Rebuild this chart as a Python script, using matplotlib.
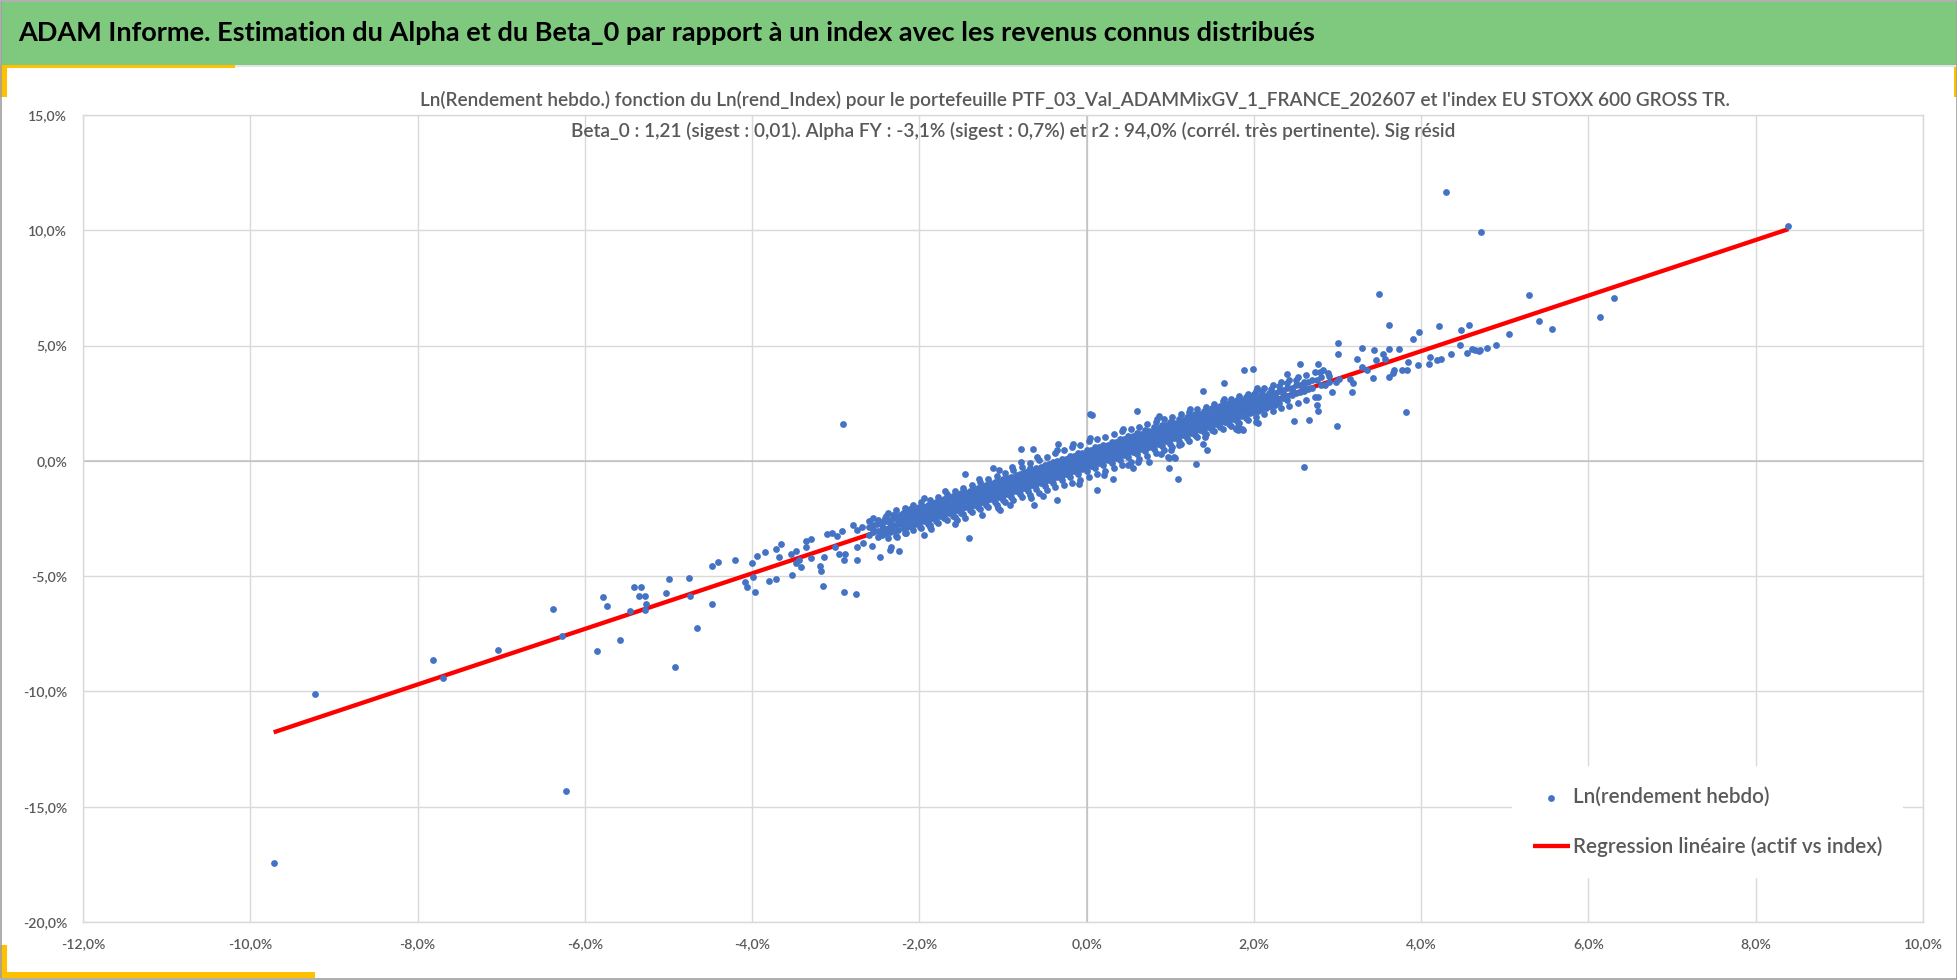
"""Ln(weekly return) of the portfolio vs Ln(weekly return) of the index,
with the fitted linear regression (ADAM style report chart)."""

import matplotlib
matplotlib.use("Agg")
import matplotlib.pyplot as plt
import numpy as np
from matplotlib.patches import Rectangle
from matplotlib.ticker import FuncFormatter

# ---------------------------------------------------------------- data (%)
# isolated points: (index, portfolio)
tail_low = [
    (-9.72, -17.42), (-9.23, -10.11), (-7.81, -8.63), (-7.70, -9.43),
    (-7.04, -8.20), (-6.38, -6.44), (-6.27, -7.59), (-6.23, -14.30),
    (-5.86, -8.24), (-5.78, -5.90), (-5.73, -6.28), (-5.58, -7.75),
    (-5.46, -6.50), (-5.41, -5.46), (-5.33, -5.46), (-5.35, -5.84),
    (-5.28, -5.84), (-5.27, -6.22), (-5.28, -6.47), (-5.03, -5.74),
    (-4.99, -5.13), (-4.92, -8.95), (-4.76, -5.08), (-4.74, -5.84),
    (-4.66, -7.26), (-4.48, -4.58), (-4.41, -4.37), (-4.48, -6.22),
    (-4.21, -4.31), (-4.09, -5.24), (-4.06, -5.47),
    (-3.96, -5.69), (-3.99, -5.03), (-4.00, -4.44), (-3.94, -4.12),
    (-3.85, -3.95), (-3.80, -5.20), (-3.71, -5.14), (-3.72, -3.83),
    (-3.65, -3.61), (-3.68, -4.15), (-3.53, -4.02), (-3.47, -3.90),
    (-3.52, -4.93), (-3.47, -4.45), (-3.41, -4.60), (-3.44, -4.28),
    (-3.36, -3.73), (-3.30, -3.40), (-3.36, -3.47), (-3.29, -4.22),
    (-3.19, -4.55), (-3.18, -4.77), (-3.15, -5.42), (-3.14, -4.15),
    (-3.11, -3.16), (-3.04, -3.12), (-2.99, -3.25), (-3.01, -3.73),
    (-2.96, -4.02), (-2.92, -3.03), (-2.90, -4.28), (-2.89, -4.06),
    (-2.90, -5.69), (-2.76, -5.79), (-2.79, -2.80), (-2.75, -4.28),
    (-2.74, -3.73), (-2.68, -2.86), (-2.67, -3.58), (-2.74, -3.01),
]
spread_mid = [
    (-2.91, 1.58), (-2.57, -3.68), (-2.47, -4.16), (-2.45, -3.15),
    (-2.55, -2.50), (-2.51, -2.72), (-2.41, -2.50), (-2.31, -2.36),
    (-2.23, -2.36), (-2.11, -2.07), (-2.34, -3.73), (-2.35, -3.87),
    (-2.24, -3.90), (-2.27, -3.29), (-2.16, -3.12), (-1.95, -3.22),
    (-1.99, -2.86), (-1.94, -1.59), (-1.87, -2.86), (-1.79, -1.85),
    (-1.57, -2.74), (-1.55, -2.57), (-1.41, -3.34), (-1.45, -0.55),
    (-1.25, -2.36), (-1.12, -0.33), (-1.05, -0.40), (-1.04, -2.14),
    (-0.92, -1.92), (-0.78, 0.53), (-0.64, 0.53), (-0.78, -0.07),
    (-0.68, -0.29), (-0.63, -1.92), (-0.52, -1.53), (-0.36, -1.71),
    (-0.34, 0.75), (0.04, 2.05), (0.07, 2.01), (0.60, 2.17),
    (0.12, -1.27), (0.31, -0.79), (0.56, -0.33), (0.50, -0.17),
    (0.75, -0.06), (0.89, 0.31), (0.97, 0.16), (1.05, 0.16),
    (0.98, 0.12), (1.06, 0.12), (0.99, -0.31), (1.09, -0.80),
    (1.31, -0.13), (1.44, 0.48), (1.39, 0.74), (1.11, 0.67),
    (0.87, 1.95), (1.39, 3.05), (1.64, 3.37), (1.88, 3.92),
    (1.99, 3.97), (2.02, 1.69), (2.05, 1.66), (1.79, 1.37),
    (1.86, 1.37), (1.81, 1.34), (1.87, 1.34), (2.39, 3.76),
    (2.48, 1.73), (2.66, 1.79), (2.60, -0.25), (2.77, 2.17),
    (2.76, 2.44), (2.77, 2.78), (2.55, 4.20), (2.77, 4.20),
    (2.79, 3.87), (2.89, 3.79), (2.93, 2.99), (2.98, 3.43),
    (3.02, 3.53), (2.99, 1.51),
]
tail_high = [
    (3.01, 5.13), (3.01, 4.64), (3.15, 3.53), (3.17, 2.99),
    (3.19, 3.36), (3.23, 4.40), (3.29, 4.08), (3.29, 4.91),
    (3.35, 3.94), (3.42, 3.59), (3.43, 4.80), (3.46, 4.38),
    (3.49, 7.22), (3.54, 4.64), (3.57, 4.42), (3.61, 5.90),
    (3.62, 4.85), (3.62, 3.65), (3.66, 3.79), (3.67, 3.94),
    (3.74, 4.85), (3.77, 3.94), (3.82, 2.11), (3.83, 3.94),
    (3.84, 4.30), (3.90, 5.29), (3.96, 4.14), (3.97, 5.57),
    (4.09, 4.20), (4.11, 4.49), (4.19, 4.38), (4.21, 5.84),
    (4.24, 4.42), (4.30, 11.66), (4.36, 4.64), (4.46, 5.01),
    (4.48, 5.68), (4.55, 4.69), (4.57, 5.90), (4.61, 4.85),
    (4.64, 4.80), (4.69, 4.77), (4.70, 4.81), (4.71, 9.91),
    (4.79, 4.91), (4.90, 5.01), (5.05, 5.52), (5.29, 7.20),
    (5.41, 6.05), (5.57, 5.73), (6.14, 6.22), (6.30, 7.07),
    (8.39, 10.19),
]
# dense core of the cloud, estimated column by column: (index, [portfolio...])
band = [
    (-2.60, [-2.85, -3.20, -2.62]),
    (-2.55, [-2.78, -3.10, -2.95]),
    (-2.50, [-2.70, -3.05, -2.55, -3.30]),
    (-2.45, [-2.65, -2.98, -2.80, -3.20]),
    (-2.40, [-2.62, -2.95, -2.40, -3.15]),
    (-2.35, [-2.55, -2.88, -2.68, -3.08]),
    (-2.30, [-2.50, -2.80, -2.35, -3.05]),
    (-2.25, [-2.42, -2.75, -2.58, -2.98]),
    (-2.20, [-2.40, -2.70, -2.25, -2.90, -2.55]),
    (-2.15, [-2.35, -2.62, -2.45, -2.85, -2.20]),
    (-2.10, [-2.30, -2.60, -2.15, -2.82, -2.45]),
    (-2.05, [-2.22, -2.52, -2.35, -2.72, -2.08]),
    (-2.00, [-2.15, -2.48, -2.00, -2.70, -2.33]),
    (-1.95, [-2.10, -2.42, -2.22, -2.60, -1.98, -2.32]),
    (-1.90, [-2.05, -2.38, -1.92, -2.60, -2.22, -2.75]),
    (-1.85, [-1.98, -2.30, -2.10, -2.50, -1.85, -2.20]),
    (-1.80, [-1.90, -2.25, -1.80, -2.45, -2.10, -2.62]),
    (-1.75, [-1.88, -2.18, -1.98, -2.40, -1.72, -2.08]),
    (-1.70, [-1.78, -2.12, -1.65, -2.35, -1.98, -2.50]),
    (-1.65, [-1.75, -2.06, -1.85, -2.28, -1.60, -1.95]),
    (-1.60, [-1.65, -2.00, -1.52, -2.22, -1.88, -2.40, -1.75]),
    (-1.55, [-1.62, -1.95, -1.72, -2.15, -1.48, -1.82]),
    (-1.50, [-1.55, -1.88, -1.40, -2.10, -1.75, -2.25, -1.62]),
    (-1.45, [-1.50, -1.82, -1.60, -2.02, -1.35, -1.70]),
    (-1.40, [-1.42, -1.78, -1.30, -1.98, -1.62, -2.15, -1.50]),
    (-1.35, [-1.38, -1.70, -1.48, -1.90, -1.22, -1.58]),
    (-1.30, [-1.30, -1.65, -1.18, -1.85, -1.50, -2.02, -1.40]),
    (-1.25, [-1.26, -1.58, -1.36, -1.78, -1.10, -1.46]),
    (-1.20, [-1.18, -1.52, -1.05, -1.75, -1.38, -1.90, -1.28]),
    (-1.15, [-1.14, -1.46, -1.24, -1.66, -0.98, -1.34]),
    (-1.10, [-1.05, -1.42, -0.92, -1.62, -1.25, -1.80, -1.15]),
    (-1.05, [-1.02, -1.34, -1.12, -1.55, -0.86, -1.22]),
    (-1.00, [-0.95, -1.30, -0.80, -1.50, -1.12, -1.68, -1.02]),
    (-0.95, [-0.90, -1.22, -1.00, -1.42, -0.74, -1.10]),
    (-0.90, [-0.82, -1.18, -0.68, -1.38, -1.00, -1.55, -0.90]),
    (-0.85, [-0.78, -1.10, -0.88, -1.30, -0.62, -0.98]),
    (-0.80, [-0.70, -1.05, -0.55, -1.25, -0.88, -1.45, -0.78]),
    (-0.75, [-0.66, -0.98, -0.76, -1.18, -0.50, -0.86]),
    (-0.70, [-0.58, -0.92, -0.42, -1.12, -0.75, -1.32, -0.65]),
    (-0.65, [-0.54, -0.86, -0.64, -1.06, -0.38, -0.74]),
    (-0.60, [-0.45, -0.80, -0.30, -1.00, -0.62, -1.20, -0.52]),
    (-0.55, [-0.42, -0.74, -0.52, -0.94, -0.26, -0.62]),
    (-0.50, [-0.35, -0.68, -0.18, -0.88, -0.52, -1.08, -0.42]),
    (-0.45, [-0.30, -0.62, -0.40, -0.82, -0.14, -0.50]),
    (-0.40, [-0.22, -0.55, -0.05, -0.75, -0.40, -0.95, -0.30]),
    (-0.35, [-0.18, -0.50, -0.28, -0.70, -0.02, -0.38]),
    (-0.30, [-0.10, -0.45, 0.08, -0.62, -0.28, -0.82, -0.18]),
    (-0.25, [-0.06, -0.38, -0.16, -0.58, 0.10, -0.26]),
    (-0.20, [0.02, -0.32, 0.20, -0.50, -0.15, -0.70, -0.05]),
    (-0.15, [0.06, -0.26, -0.04, -0.46, 0.22, -0.14]),
    (-0.10, [0.15, -0.20, 0.32, -0.38, -0.05, -0.58, 0.08]),
    (-0.05, [0.18, -0.14, 0.08, -0.34, 0.34, -0.02]),
    (0.00, [0.28, -0.08, 0.45, -0.25, 0.08, -0.45, 0.20]),
    (0.05, [0.30, -0.02, 0.20, -0.22, 0.46, 0.10]),
    (0.10, [0.40, 0.05, 0.58, -0.12, 0.20, -0.32, 0.32]),
    (0.15, [0.42, 0.10, 0.32, -0.10, 0.58, 0.22]),
    (0.20, [0.52, 0.18, 0.70, 0.00, 0.32, -0.20, 0.45]),
    (0.25, [0.54, 0.22, 0.44, 0.02, 0.70, 0.34]),
    (0.30, [0.62, 0.30, 0.82, 0.12, 0.45, -0.08, 0.55]),
    (0.35, [0.66, 0.34, 0.56, 0.14, 0.82, 0.46]),
    (0.40, [0.75, 0.42, 0.95, 0.25, 0.55, 0.05, 0.68]),
    (0.45, [0.78, 0.46, 0.68, 0.26, 0.94, 0.58]),
    (0.50, [0.88, 0.55, 1.08, 0.38, 0.68, 0.18, 0.80]),
    (0.55, [0.90, 0.58, 0.80, 0.38, 1.06, 0.70]),
    (0.60, [1.00, 0.65, 1.20, 0.48, 0.80, 0.30, 0.92]),
    (0.65, [1.02, 0.70, 0.92, 0.50, 1.18, 0.82]),
    (0.70, [1.12, 0.78, 1.32, 0.60, 0.92, 0.42, 1.05]),
    (0.75, [1.14, 0.82, 1.04, 0.62, 1.30, 0.94]),
    (0.80, [1.22, 0.90, 1.45, 0.72, 1.05, 0.52, 1.15]),
    (0.85, [1.26, 0.94, 1.16, 0.74, 1.42, 1.06]),
    (0.90, [1.35, 1.02, 1.55, 0.85, 1.15, 0.65, 1.28]),
    (0.95, [1.38, 1.06, 1.28, 0.86, 1.54, 1.18]),
    (1.00, [1.48, 1.12, 1.68, 0.95, 1.28, 0.75, 1.38]),
    (1.05, [1.50, 1.18, 1.40, 0.98, 1.66, 1.30]),
    (1.10, [1.60, 1.25, 1.80, 1.08, 1.40, 0.88, 1.50]),
    (1.15, [1.62, 1.30, 1.52, 1.10, 1.78, 1.42]),
    (1.20, [1.70, 1.38, 1.92, 1.20, 1.52, 1.00, 1.62]),
    (1.25, [1.74, 1.42, 1.64, 1.22, 1.90, 1.54]),
    (1.30, [1.82, 1.50, 2.05, 1.32, 1.65, 1.12, 1.75]),
    (1.35, [1.86, 1.54, 1.76, 1.34, 2.02, 1.66]),
    (1.40, [1.95, 1.62, 2.15, 1.45, 1.75, 1.25, 1.88]),
    (1.45, [1.98, 1.66, 1.88, 1.46, 2.14, 1.78]),
    (1.50, [2.08, 1.72, 2.28, 1.55, 1.88, 1.35, 2.00]),
    (1.55, [2.10, 1.78, 2.00, 1.58, 2.26]),
    (1.60, [2.20, 1.85, 2.40, 1.68, 2.00, 1.48]),
    (1.65, [2.22, 1.90, 2.12, 1.70, 2.38]),
    (1.70, [2.30, 1.98, 2.52, 1.80, 2.12, 1.60]),
    (1.75, [2.34, 2.02, 2.24, 1.82, 2.50]),
    (1.80, [2.42, 2.10, 2.65, 1.92, 2.25, 1.72]),
    (1.85, [2.46, 2.14, 2.36, 1.94, 2.62]),
    (1.90, [2.55, 2.22, 2.78, 2.05, 2.38, 1.85]),
    (1.95, [2.58, 2.26, 2.48, 2.06, 2.74]),
    (2.00, [2.68, 2.35, 2.90, 2.15, 2.48]),
    (2.05, [2.70, 2.38, 2.60, 2.18]),
    (2.10, [2.80, 2.45, 3.02, 2.28, 2.60]),
    (2.15, [2.82, 2.50, 2.72, 2.30]),
    (2.20, [2.92, 2.58, 3.12, 2.40, 2.72]),
    (2.25, [2.94, 2.62, 2.84, 2.42]),
    (2.30, [3.05, 2.70, 3.25, 2.52]),
    (2.35, [3.06, 2.74, 2.96]),
    (2.40, [3.15, 2.82, 3.38, 2.62]),
    (2.45, [3.18, 2.86, 3.08]),
    (2.50, [3.28, 2.95, 3.50]),
    (2.55, [3.30, 2.98]),
    (2.60, [3.40, 3.05, 3.20]),
    (2.65, [3.42, 3.10]),
    (2.70, [3.50, 3.18]),
    (2.75, [3.52]),
    (2.80, [3.62, 3.30]),
    (2.85, [3.30]),
    (2.90, [3.70, 3.40]),
]
# outer fringe of the core (upper and lower edges of the ribbon)
band_edge = [
    (-2.375, -2.25), (-2.375, -3.35), (-2.275, -2.15), (-2.28, -3.25),
    (-2.175, -2.05), (-2.175, -3.12), (-2.075, -1.92), (-2.075, -3.02),
    (-1.975, -1.80), (-1.975, -2.90), (-1.875, -1.68), (-1.875, -2.80),
    (-1.86, -2.95), (-1.775, -1.55), (-1.775, -2.68), (-1.675, -1.42),
    (-1.675, -2.58), (-1.69, -1.30), (-1.575, -1.30), (-1.575, -2.45),
    (-1.475, -1.18), (-1.475, -2.32), (-1.46, -2.50), (-1.375, -1.05),
    (-1.375, -2.22), (-1.275, -0.92), (-1.275, -2.10), (-1.29, -0.80),
    (-1.175, -0.78), (-1.175, -2.00), (-1.075, -0.65), (-1.075, -1.90),
    (-1.06, -2.05), (-0.975, -0.52), (-0.975, -1.80), (-0.875, -0.38),
    (-0.875, -1.68), (-0.89, -0.25), (-0.775, -0.25), (-0.775, -1.58),
    (-0.675, -0.10), (-0.675, -1.48), (-0.66, -1.62), (-0.575, 0.02),
    (-0.575, -1.38), (-0.59, 0.15), (-0.475, 0.18), (-0.475, -1.25),
    (-0.375, 0.32), (-0.375, -1.15), (-0.36, 0.45), (-0.275, 0.45),
    (-0.275, -1.05), (-0.175, 0.58), (-0.175, -0.95), (-0.16, 0.72),
    (-0.075, 0.70), (-0.075, -0.85), (-0.09, -1.00), (0.025, 0.85),
    (0.025, -0.72), (0.04, 0.98), (0.125, 0.95), (0.125, -0.58),
    (0.225, 1.05), (0.225, -0.45), (0.21, -0.60), (0.325, 1.18),
    (0.325, -0.30), (0.425, 1.28), (0.425, -0.18), (0.44, 1.40),
    (0.525, 1.38), (0.525, -0.05), (0.625, 1.48), (0.625, 0.08),
    (0.61, -0.05), (0.725, 1.60), (0.725, 0.22), (0.825, 1.70),
    (0.825, 0.35), (0.84, 1.82), (0.925, 1.80), (0.925, 0.48),
    (1.025, 1.92), (1.025, 0.60), (1.01, 0.48), (1.125, 2.02),
    (1.125, 0.75), (1.225, 2.12), (1.225, 0.88), (1.24, 2.25),
    (1.325, 2.25), (1.325, 1.02), (1.425, 2.35), (1.425, 1.15),
    (1.41, 1.02), (1.525, 2.45), (1.525, 1.28), (1.625, 2.58),
    (1.625, 1.40), (1.64, 2.70), (1.725, 2.68), (1.725, 1.52),
    (1.825, 2.80), (1.825, 1.65), (1.81, 1.52), (1.925, 2.92),
    (1.925, 1.78), (2.025, 3.05), (2.025, 1.90), (2.04, 3.18),
    (2.125, 3.15), (2.125, 2.02), (2.225, 3.28), (2.225, 2.15),
    (2.325, 3.40), (2.325, 2.28), (2.425, 3.52), (2.425, 2.40),
    (2.525, 3.62), (2.525, 2.52), (2.625, 3.72), (2.625, 2.65),
    (2.725, 3.85), (2.725, 2.78), (2.825, 3.95),
]
# in-between points filling the ribbon
band_fill = [
    (-1.925, -1.98), (-1.925, -2.56), (-1.825, -1.86), (-1.825, -2.44),
    (-1.725, -1.74), (-1.725, -2.32), (-1.625, -1.62), (-1.625, -2.20),
    (-1.525, -1.50), (-1.525, -2.08), (-1.425, -1.38), (-1.425, -1.96),
    (-1.325, -1.26), (-1.325, -1.84), (-1.225, -1.14), (-1.225, -1.72),
    (-1.125, -1.02), (-1.125, -1.60), (-1.025, -0.90), (-1.025, -1.48),
    (-0.925, -0.78), (-0.925, -1.36), (-0.825, -0.66), (-0.825, -1.24),
    (-0.725, -0.54), (-0.725, -1.12), (-0.625, -0.42), (-0.625, -1.00),
    (-0.525, -0.30), (-0.525, -0.88), (-0.425, -0.18), (-0.425, -0.76),
    (-0.325, -0.06), (-0.325, -0.64), (-0.225, 0.06), (-0.225, -0.52),
    (-0.125, 0.18), (-0.125, -0.40), (-0.025, 0.30), (-0.025, -0.28),
    (0.075, 0.42), (0.075, -0.16), (0.175, 0.54), (0.175, -0.04),
    (0.275, 0.66), (0.275, 0.08), (0.375, 0.78), (0.375, 0.20),
    (0.475, 0.90), (0.475, 0.32), (0.575, 1.02), (0.575, 0.44),
    (0.675, 1.14), (0.675, 0.56), (0.775, 1.26), (0.775, 0.68),
    (0.875, 1.38), (0.875, 0.80), (0.975, 1.50), (0.975, 0.92),
    (1.075, 1.62), (1.075, 1.04), (1.175, 1.74), (1.175, 1.16),
    (1.275, 1.86), (1.275, 1.28), (1.375, 1.98), (1.375, 1.40),
    (1.475, 2.10), (1.475, 1.52), (1.575, 2.22), (1.575, 1.64),
    (1.675, 2.34), (1.675, 1.76), (1.775, 2.46), (1.775, 1.88),
    (1.875, 2.58), (1.875, 2.00), (1.975, 2.70), (1.975, 2.12),
    (2.075, 2.82), (2.075, 2.24), (2.175, 2.94), (2.175, 2.36),
]

beta = 1.205          # "Beta_0 : 1,21"
alpha_weekly = -0.06  # intercept of the fitted line, in % per week

x_ticks = [-12, -10, -8, -6, -4, -2, 0, 2, 4, 6, 8, 10]
y_ticks = [-20, -15, -10, -5, 0, 5, 10, 15]

title = ("ADAM Informe. Estimation du Alpha et du Beta_0 par rapport à un "
         "index avec les revenus connus distribués")
subtitle_1 = ("Ln(Rendement hebdo.) fonction du Ln(rend_Index) pour le "
              "portefeuille PTF_03_Val_ADAMMixGV_1_FRANCE_202607 et l'index "
              "EU STOXX 600 GROSS TR.")
subtitle_2 = ("Beta_0 : 1,21 (sigest : 0,01). Alpha FY : -3,1% (sigest : 0,7%) "
              "et r2 : 94,0% (corrél. très pertinente). Sig résid")
label_points = "Ln(rendement hebdo)"
label_line = "Regression linéaire (actif vs index)"

# ---------------------------------------------------------------- layout
W, H = 1958, 980
BLUE, RED, GOLD, GREEN = "#4472C4", "#FF0000", "#FFC000", "#7FC97F"
GREY_TXT, GRID = "#595959", "#D9D9D9"
FONT = ["Lato", "DejaVu Sans"]


def fx(px):
    return px / W


def fy(py):
    return 1 - py / H


fig = plt.figure(figsize=(W / 100, H / 100), dpi=100)
renderer = fig.canvas.get_renderer()


def fit_size(text, width_px, **kw):
    """font size (pt) that makes `text` about `width_px` wide"""
    t = fig.text(0, 0, text, fontsize=20, family=FONT, **kw)
    w = t.get_window_extent(renderer).width
    t.remove()
    return 20 * width_px / w


fs_title = fit_size(title, 1300, weight="bold")
# second subtitle line spans x=570..1455 in the reference; same size for both
fs_sub = fit_size(subtitle_2, 885, weight="semibold")
fs_tick = fit_size("-20,0%", 44, weight="semibold")
fs_leg = fit_size(label_points, 196, weight="semibold")


# frame decorations: header band, gold corners, outer border
def box(x0, y0, x1, y1, color, z=1):
    fig.add_artist(Rectangle((fx(x0), fy(y1)), fx(x1) - fx(x0),
                             fy(y0) - fy(y1), transform=fig.transFigure,
                             facecolor=color, edgecolor="none", zorder=z))


box(1, 2, 1957, 65, GREEN)
box(1, 65, 1957, 67, "#E4E4E4")
box(0, 65, 235, 68, GOLD)
box(0, 65, 7, 97, GOLD)
box(0, 945, 7, 978, GOLD)
box(0, 972, 315, 978, GOLD)
box(1954, 67, 1957, 97, GOLD)
fig.add_artist(Rectangle((0.0005, 0.001), 0.999, 0.998,
                         transform=fig.transFigure, facecolor="none",
                         edgecolor="#A0A0A0", lw=1.2, zorder=6))

fig.text(fx(18), fy(33), title, ha="left", va="center", fontsize=fs_title,
         weight="bold", color="black", family=FONT, zorder=3)
fig.text(fx(1075), fy(100), subtitle_1, ha="center", va="center",
         fontsize=fs_sub, weight="semibold", color=GREY_TXT, family=FONT,
         zorder=3)
fig.text(fx(1455), fy(131), subtitle_2, ha="right", va="center",
         fontsize=fs_sub, weight="semibold", color=GREY_TXT, family=FONT,
         zorder=3)

# ---------------------------------------------------------------- axes
ax = fig.add_axes([fx(83), fy(922), fx(1923) - fx(83), fy(115) - fy(922)])

pts = tail_low + spread_mid + tail_high + band_edge + band_fill
pts += [(bx, by) for bx, ys in band for by in ys]
x = np.array([p[0] for p in pts])
y = np.array([p[1] for p in pts])

ax.scatter(x, y, s=24, color=BLUE, linewidths=0, zorder=4,
           label=label_points)
x_line = np.array([x.min(), x.max()])
ax.plot(x_line, beta * x_line + alpha_weekly, color=RED, lw=3.1,
        solid_capstyle="butt", zorder=3, label=label_line)

ax.set_xlim(-12, 10)
ax.set_ylim(-20, 15)
ax.set_xticks(x_ticks)
ax.set_yticks(y_ticks)
pct = FuncFormatter(lambda v, _: f"{v:.1f}%".replace(".", ","))
ax.xaxis.set_major_formatter(pct)
ax.yaxis.set_major_formatter(pct)
ax.set_axisbelow(True)
ax.grid(color=GRID, lw=1.0)
ax.axhline(0, color="#BFBFBF", lw=1.1, zorder=1)
ax.axvline(0, color="#BFBFBF", lw=1.1, zorder=1)
ax.tick_params(length=0, pad=11.5, labelsize=fs_tick, labelcolor=GREY_TXT)
for lab in ax.get_xticklabels() + ax.get_yticklabels():
    lab.set_family(FONT)
    lab.set_weight("semibold")
for sp in ax.spines.values():
    sp.set_color(GRID)
    sp.set_linewidth(1.0)

f_px = fs_leg * 100 / 72
ax.legend(loc="upper left", bbox_to_anchor=(fx(1512), fy(766)),
          bbox_transform=fig.transFigure, frameon=True, fancybox=False,
          facecolor="white", edgecolor="none", framealpha=1,
          borderaxespad=0, borderpad=21 / f_px, handlelength=37 / f_px,
          handletextpad=3 / f_px, labelspacing=(54 - 1.2 * f_px) / f_px,
          scatterpoints=1, labelcolor=GREY_TXT,
          prop=dict(family=FONT, size=fs_leg, weight="semibold"))

fig.savefig("out.png", dpi=100)
